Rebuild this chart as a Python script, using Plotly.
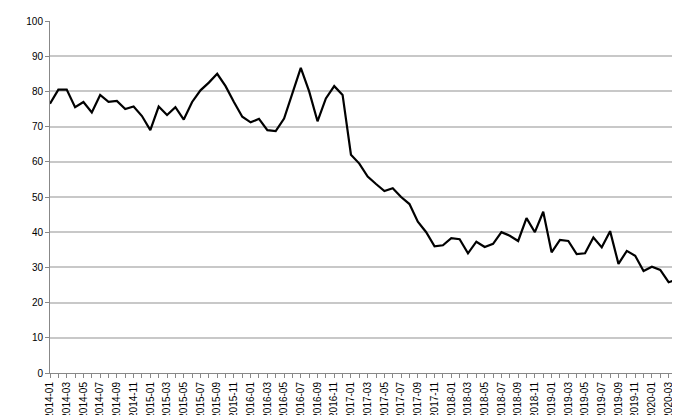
import plotly.graph_objects as go

months = [f"{y}-{m:02d}" for y in range(2014, 2021) for m in range(1, 13)][:76]

values = [
    76.5, 80.5, 80.5, 75.5, 77, 74, 79, 77, 77.3, 75, 75.7, 73,
    69, 75.7, 73.3, 75.5, 72, 77, 80.3, 82.5, 85, 81.5, 77, 72.8,
    71.2, 72.2, 69, 68.7, 72.3, 79.5, 86.7, 80, 71.5, 78, 81.5, 79,
    62, 59.5, 55.8, 53.7, 51.7, 52.5, 50, 48, 43, 40, 36, 36.3,
    38.3, 38, 34, 37.3, 35.8, 36.7, 40, 39, 37.5, 44, 40, 45.8,
    34.3, 37.8, 37.5, 33.8, 34, 38.5, 35.7, 40.3, 31, 34.7, 33.3, 29,
    30.2, 29.3, 25.8, 26.6,
]

idx = list(range(len(months)))

fig = go.Figure()
fig.add_trace(go.Scatter(x=idx, y=values, mode='lines',
                         line=dict(color='black', width=2.2)))

fig.update_layout(
    width=680, height=415,
    margin=dict(l=42, r=6, t=13, b=50),
    plot_bgcolor='white', paper_bgcolor='white',
    showlegend=False,
    font=dict(family='Liberation Sans, Arial', size=10, color='black'),
)
fig.update_xaxes(
    range=[0, 75.6], tickmode='array', tickvals=idx[::2], ticktext=months[::2],
    tickangle=-90, showgrid=False, showline=True, linecolor='#888',
    ticks='outside', ticklen=4, tickcolor='#888', automargin=False,
    minor=dict(tickmode='array', tickvals=idx, ticks='outside', ticklen=4, tickcolor='#888'),
)
fig.update_yaxes(
    range=[0, 100], dtick=10, showgrid=True, gridcolor='#c8c8c8', gridwidth=1.5,
    showline=True, linecolor='#888', ticks='outside', ticklen=4, tickcolor='#888',
    zeroline=False, automargin=False,
)

fig.write_html("out.html")
